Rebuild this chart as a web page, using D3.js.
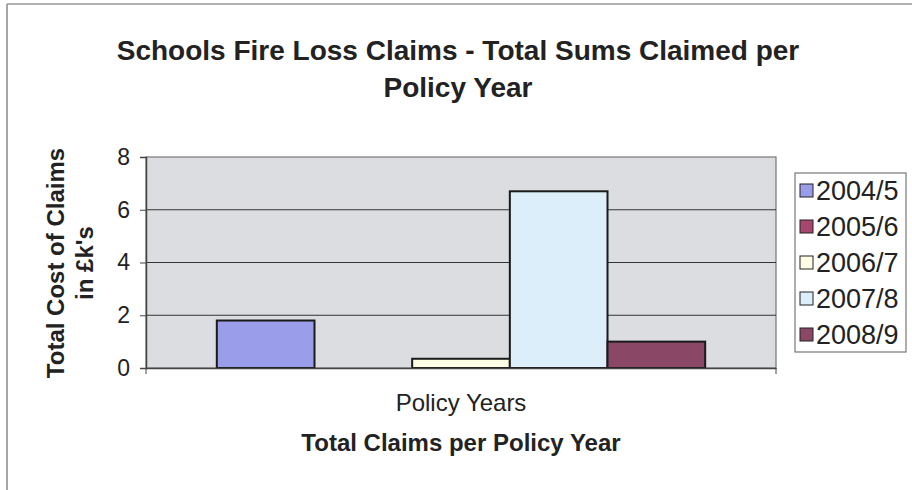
<!DOCTYPE html>
<html>
<head>
<meta charset="utf-8">
<script src="https://cdn.jsdelivr.net/npm/d3@7"></script>
<style>
html,body{margin:0;padding:0;background:#fff;}
svg{display:block;font-family:"Liberation Sans",Arial,sans-serif;}
</style>
</head>
<body>
<svg id="chart" width="912" height="490"></svg>
<script>
const categories = ["Policy Years"];
const seriesNames = ["2004/5", "2005/6", "2006/7", "2007/8", "2008/9"];
const seriesValues = [1.8, 0, 0.35, 6.7, 1.0];
const seriesColors = ["#9a9eea", "#a8466e", "#fdfde6", "#dbeefa", "#8a4866"];
const yTicks = [0, 2, 4, 6, 8];

const svg = d3.select("#chart");
const plot = {left: 146, right: 776, top: 157, bottom: 368};
const FONT = "Liberation Sans, Arial, sans-serif";

// outer chart border (left & top visible)
svg.append("line").attr("x1", 7).attr("x2", 7).attr("y1", 4).attr("y2", 490)
  .attr("stroke", "#888").attr("stroke-width", 1.5);
svg.append("line").attr("x1", 7).attr("x2", 912).attr("y1", 4).attr("y2", 4)
  .attr("stroke", "#999").attr("stroke-width", 1.5);

// title
const title = svg.append("text").attr("text-anchor", "middle")
  .attr("font-size", 28).attr("font-weight", "bold").attr("fill", "#222");
title.append("tspan").attr("x", 458).attr("y", 60).text("Schools Fire Loss Claims - Total Sums Claimed per");
title.append("tspan").attr("x", 458).attr("y", 97).text("Policy Year");

const y = d3.scaleLinear().domain([0, 8]).range([plot.bottom, plot.top]);
const x0 = d3.scaleBand().domain(categories).range([plot.left, plot.right])
  .paddingInner(0).paddingOuter(0.145);
const x1 = d3.scaleBand().domain(seriesNames).range([0, x0.bandwidth()]).padding(0);

// plot background
svg.append("rect").attr("x", plot.left).attr("y", plot.top)
  .attr("width", plot.right - plot.left).attr("height", plot.bottom - plot.top)
  .attr("fill", "#dcdde0").attr("stroke", "#777").attr("stroke-width", 1.2);

// gridlines
svg.append("g").selectAll("line").data(yTicks.filter(d => d > 0 && d < 8)).join("line")
  .attr("x1", plot.left).attr("x2", plot.right)
  .attr("y1", d => y(d)).attr("y2", d => y(d))
  .attr("stroke", "#333").attr("stroke-width", 1);

// bars
const g = svg.append("g").attr("transform", `translate(${x0(categories[0])},0)`);
g.selectAll("rect").data(seriesNames.map((s, i) => ({s, v: seriesValues[i], c: seriesColors[i]})))
  .join("rect")
  .attr("x", d => x1(d.s)).attr("width", x1.bandwidth())
  .attr("y", d => y(d.v)).attr("height", d => y(0) - y(d.v))
  .attr("fill", d => d.c).attr("stroke", d => d.v > 0 ? "#1a1a1a" : "none").attr("stroke-width", 2);

// y axis
const yAxis = svg.append("g").attr("transform", `translate(${plot.left},0)`)
  .call(d3.axisLeft(y).tickValues(yTicks).tickSize(6).tickPadding(10).tickFormat(d3.format("d")));
yAxis.select(".domain").attr("stroke", "#444").attr("stroke-width", 1.5);
yAxis.selectAll(".tick line").attr("stroke", "#444");
yAxis.selectAll("text").attr("font-size", 23).attr("fill", "#222").attr("font-family", FONT);

// x axis
const xAxis = svg.append("g").attr("transform", `translate(0,${plot.bottom})`)
  .call(d3.axisBottom(x0).tickSize(0).tickPadding(26));
xAxis.select(".domain").attr("stroke", "#444").attr("stroke-width", 1.5);
xAxis.selectAll("text").attr("font-size", 24).attr("fill", "#222").attr("font-family", FONT);
svg.append("g").selectAll("line").data([plot.left, plot.right]).join("line")
  .attr("x1", d => d).attr("x2", d => d).attr("y1", plot.bottom).attr("y2", plot.bottom + 6)
  .attr("stroke", "#444");

// axis titles
svg.append("text").attr("x", 461).attr("y", 451).attr("text-anchor", "middle")
  .attr("font-size", 24).attr("font-weight", "bold").attr("fill", "#222")
  .text("Total Claims per Policy Year");
const ytg = svg.append("g").attr("transform", "translate(64,263) rotate(-90)");
ytg.append("text").attr("x", 0).attr("y", 0).attr("text-anchor", "middle")
  .attr("font-size", 24).attr("font-weight", "bold").attr("fill", "#222").text("Total Cost of Claims");
ytg.append("text").attr("x", 0).attr("y", 29).attr("text-anchor", "middle")
  .attr("font-size", 24).attr("font-weight", "bold").attr("fill", "#222").text("in £k's");

// legend
const leg = svg.append("g");
leg.append("rect").attr("x", 795).attr("y", 173).attr("width", 111).attr("height", 179)
  .attr("fill", "#fff").attr("stroke", "#777").attr("stroke-width", 1.2);
const items = leg.selectAll("g.item").data(seriesNames).join("g").attr("class", "item")
  .attr("transform", (d, i) => `translate(800,${190 + i * 36})`);
items.append("rect").attr("x", 0).attr("y", -6).attr("width", 13).attr("height", 13)
  .attr("fill", (d, i) => seriesColors[i]).attr("stroke", "#222").attr("stroke-width", 1);
items.append("text").attr("x", 16).attr("y", 10).attr("font-size", 27).attr("fill", "#222").text(d => d);
</script>
</body>
</html>
